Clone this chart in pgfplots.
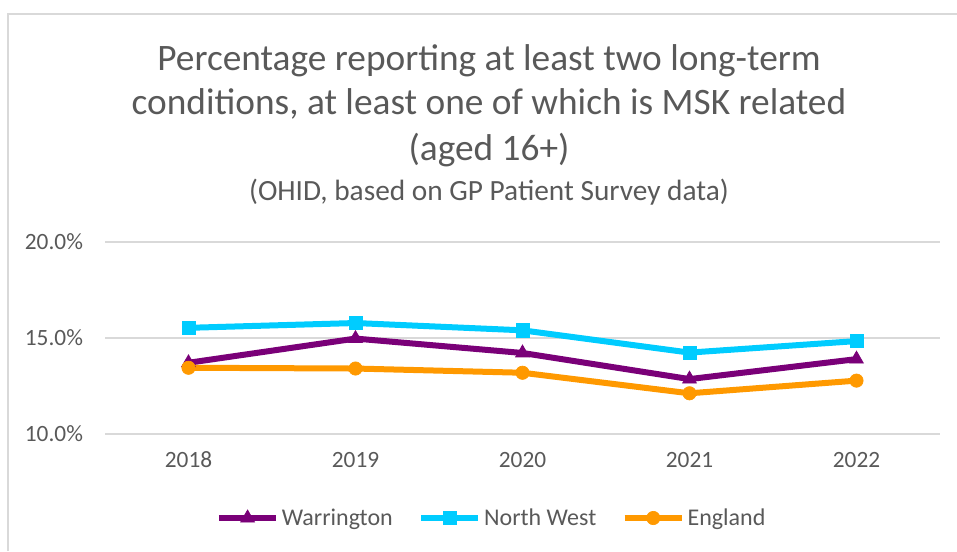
\documentclass[border=0pt]{standalone}
\usepackage{pgfplots}
\pgfplotsset{compat=1.18}
\usepackage{fontspec}
\setmainfont{Carlito}
\definecolor{txt}{HTML}{595959}
\definecolor{gridc}{HTML}{D9D9D9}
\definecolor{warr}{HTML}{7A0078}
\definecolor{nw}{HTML}{00CCFF}
\definecolor{eng}{HTML}{FF9900}
\begin{document}
\begin{tikzpicture}[x=0.75pt,y=0.75pt]
\useasboundingbox (0,0) rectangle (957,551);
\draw[gridc, line width=1.5pt] (8,0) -- (8,537) -- (957,537);
\node[anchor=base, text=txt, font=\fontsize{28}{32}\selectfont] at (489,480) {Percentage reporting at least two long-term};
\node[anchor=base, text=txt, font=\fontsize{28}{32}\selectfont] at (489,436) {conditions, at least one of which is MSK related};
\node[anchor=base, text=txt, font=\fontsize{28}{32}\selectfont] at (489,391) {(aged 16+)};
\node[anchor=base, text=txt, font=\fontsize{22}{26}\selectfont] at (489,351) {(OHID, based on GP Patient Survey data)};
\begin{axis}[
  at={(78.75pt,87.75pt)}, anchor=south west,
  scale only axis, width=626.25pt, height=144pt,
  xmin=-0.5, xmax=4.5, ymin=10, ymax=20,
  xtick={0,1,2,3,4}, xticklabels={2018,2019,2020,2021,2022},
  ytick={10,15,20}, yticklabels={10.0\%,15.0\%,20.0\%},
  axis line style={draw=none},
  major tick length=0pt,
  ymajorgrids, grid style={gridc, line width=1.5pt},
  tick label style={text=txt, font=\fontsize{17.5}{21}\selectfont},
  /pgf/number format/assume math mode=true,
  xticklabel style={yshift=-10pt},
  yticklabel style={xshift=-13pt},
  clip=false,
  legend columns=3,
  legend style={at={(0.4635,-0.4375)}, anchor=center, draw=none, fill=none,
    font=\fontsize{18}{21}\selectfont, text=txt,
    /tikz/every even column/.append style={column sep=17pt}},
  legend cell align=left,
  legend image code/.code={\draw[mark repeat=2,mark phase=2,#1] plot coordinates {(0pt,0pt) (21.5pt,0pt) (43pt,0pt)};},
]
\addplot[warr, line width=4.5pt, mark=triangle*, mark size=6pt, mark options={line width=0.5pt}] coordinates {(0,13.71) (1,14.97) (2,14.22) (3,12.86) (4,13.90)};
\addlegendentry{Warrington}
\addplot[nw, line width=4.5pt, mark=square*, mark size=5pt, mark options={line width=0.5pt}] coordinates {(0,15.53) (1,15.78) (2,15.40) (3,14.24) (4,14.84)};
\addlegendentry{North West}
\addplot[eng, line width=4.5pt, mark=*, mark size=5pt, mark options={line width=0.5pt}] coordinates {(0,13.45) (1,13.41) (2,13.19) (3,12.12) (4,12.78)};
\addlegendentry{England}
\end{axis}
\end{tikzpicture}
\end{document}
